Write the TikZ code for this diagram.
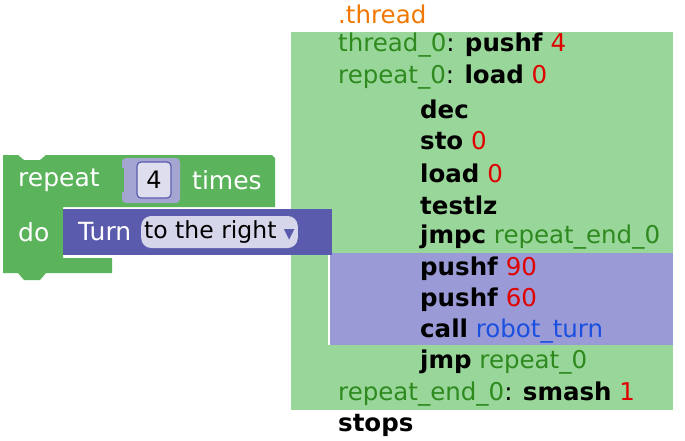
\documentclass[tikz,border=0pt]{standalone}
\usepackage{fontspec}
\setmainfont{DejaVu Sans}
\usepackage{xcolor}
\definecolor{asmbg}{HTML}{99D69A}
\definecolor{callbg}{HTML}{9A9AD6}
\definecolor{lblgreen}{HTML}{2E8A1E}
\definecolor{numred}{HTML}{E00000}
\definecolor{fnblue}{HTML}{1A4FE0}
\definecolor{threadorange}{HTML}{F07800}
\definecolor{loopgreen}{HTML}{5BB35B}
\definecolor{turnblue}{HTML}{5B5BAE}
\begin{document}
\begin{tikzpicture}[x=1pt,y=-1pt,
    asm/.style = {anchor=west, inner sep=0pt, font=\fontsize{24.5}{26}\selectfont},
    blk/.style = {anchor=west, inner sep=0pt, text=white, font=\fontsize{25}{27}\selectfont}
]
\useasboundingbox (0,0) rectangle (685,440);

% Assembly listing
\fill[asmbg] (291,32) rectangle (673,410);
\fill[callbg] (329,253) rectangle (673,345);
\draw[white,line width=1.5pt] (329,253) -- (329,345);

\node[asm, text=threadorange] (thr) at (338,14) {.thread};
\node[asm] (l1) at (338,45) {\textcolor{lblgreen}{thread\_0}: \textbf{pushf} \textcolor{numred}{4}};
\node[asm] (l2) at (338,77) {\textcolor{lblgreen}{repeat\_0}: \textbf{load} \textcolor{numred}{0}};
\node[asm] (l3) at (420,109) {\textbf{dec}};
\node[asm] (l4) at (420,141) {\textbf{sto} \textcolor{numred}{0}};
\node[asm] (l5) at (420,173) {\textbf{load} \textcolor{numred}{0}};
\node[asm] (l6) at (420,205) {\textbf{testlz}};
\node[asm] (l7) at (420,237) {\textbf{jmpc} \textcolor{lblgreen}{repeat\_end\_0}};
\node[asm] (l8) at (420,269) {\textbf{pushf} \textcolor{numred}{90}};
\node[asm] (l9) at (420,300) {\textbf{pushf} \textcolor{numred}{60}};
\node[asm] (l10) at (420,331) {\textbf{call} \textcolor{fnblue}{robot\_turn}};
\node[asm] (l11) at (420,362) {\textbf{jmp} \textcolor{lblgreen}{repeat\_0}};
\node[asm] (l12) at (338,394) {\textcolor{lblgreen}{repeat\_end\_0}: \textbf{smash} \textcolor{numred}{1}};
\node[asm] (l13) at (338,425) {\textbf{stops}};

% Blockly repeat block
\fill[loopgreen] (3,155) -- (18,155) -- (24,160) -- (40,160) -- (46,155) -- (272,155)
  -- (275,158) -- (275,207) -- (63,207) -- (63,258) -- (112,258) -- (112,273)
  -- (46,273) -- (40,280) -- (24,280) -- (18,273) -- (3,273) -- cycle;
\node[blk] (rep) at (18,180) {repeat};
\fill[white!45!turnblue, rounded corners=4pt] (122,158) rectangle (180,203);
\fill[loopgreen] (116,168) -- (124,168) -- (124,192) -- (116,192) -- cycle;
\node[draw=turnblue, fill=white!80!turnblue, rounded corners=4pt, line width=1.2pt,
      minimum width=34pt, minimum height=36pt, inner sep=0pt,
      font=\fontsize{24}{26}\selectfont] (cnt) at (154,180) {4};
\node[blk] (times) at (192,180) {times};
\node[blk] (do) at (18,232) {do};

% Turn block
\fill[turnblue] (63,209) rectangle (332,255);
\node[blk] (turn) at (78,232) {Turn};
\node[fill=white!75!turnblue, rounded corners=10pt, inner sep=3pt, anchor=west,
      minimum height=32pt, font=\fontsize{23.5}{25}\selectfont] (dir) at (141,232)
      {to the right \textcolor{turnblue}{\fontsize{14}{14}\selectfont▼}};
\end{tikzpicture}
\end{document}
